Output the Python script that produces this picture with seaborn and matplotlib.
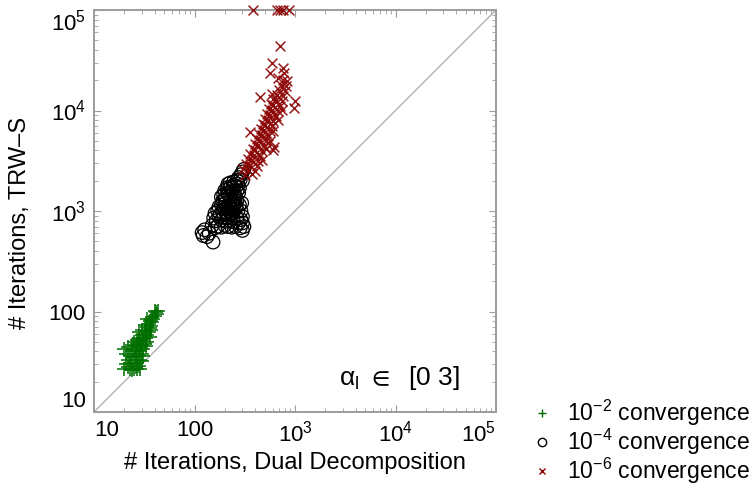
import numpy as np
import pandas as pd
import matplotlib
matplotlib.use("Agg")
import matplotlib.pyplot as plt
from matplotlib.lines import Line2D
import seaborn as sns

# ---------------- data ----------------
green_x = [20, 21, 22, 23, 24, 25, 26, 27, 28, 29, 22, 23, 21, 20, 22, 24, 25, 26, 27, 28,
           29, 30, 31, 26, 27, 28, 29, 30, 31, 32, 33, 34, 25, 24, 28, 30, 32, 33, 34, 35,
           36, 37, 35, 36, 38, 39, 40, 41, 43, 42, 40, 38, 37, 36, 34, 33, 31, 30, 29, 27,
           26, 25, 23, 24, 28, 30, 32, 34, 29, 31, 27, 26]
green_y = [27, 30, 28, 27, 26, 27, 28, 27, 29, 27, 33, 36, 38, 42, 44, 40, 35, 33, 38, 36,
           40, 38, 42, 45, 48, 44, 50, 46, 52, 48, 55, 50, 50, 46, 55, 58, 60, 64, 58, 62,
           68, 72, 75, 80, 78, 84, 90, 100, 102, 95, 102, 88, 65, 56, 70, 45, 36, 32, 33, 31,
           40, 42, 31, 30, 62, 66, 74, 85, 45, 55, 52, 35]

black_x = [119, 126, 133, 153, 140, 122,
           150, 160, 170, 185, 200, 215, 235, 255, 285, 300, 275, 245, 225, 205, 185, 165, 155, 175,
           195, 215, 240, 265, 290, 300,
           160, 170, 180, 190, 200, 210, 220, 230, 240, 250, 260, 270, 175, 185, 195, 205, 215, 225,
           235, 245, 255, 265, 280, 190, 200, 210, 220, 230, 240, 250,
           185, 195, 205, 215, 225, 235, 245, 255, 265, 275, 200, 210, 220, 230, 240, 250, 260, 270,
           225, 245, 215, 280, 265,
           275, 290, 300, 310, 285, 300,
           290, 300, 310, 295]
black_y = [610, 650, 555, 490, 600, 570,
           720, 680, 700, 690, 720, 700, 690, 700, 680, 640, 760, 780, 800, 790, 810, 800, 850, 880,
           870, 860, 850, 840, 820, 880,
           950, 1000, 930, 980, 1050, 950, 1000, 1080, 960, 1020, 1100, 990, 1100, 1150, 1080, 1200, 1120, 1250,
           1180, 1130, 1220, 1270, 1150, 1250, 1300, 1050, 1150, 960, 1240, 1300,
           1380, 1450, 1400, 1500, 1420, 1550, 1480, 1400, 1600, 1520, 1600, 1700, 1650, 1750, 1700, 1800, 1750, 1850,
           1900, 1950, 1850, 1700, 2000,
           2150, 2300, 2450, 2600, 2050, 2000,
           1000, 760, 700, 1200]

red_x = [318, 373,
         340, 400, 305,
         356, 415, 325,
         373, 428, 340, 470,
         390, 448, 356,
         400, 470, 380, 520,
         428, 490, 400,
         448, 520, 415, 563,
         470, 537, 435,
         490, 563, 455, 610,
         502, 590, 480,
         537, 610, 502, 675,
         563, 650, 530,
         590, 675, 550, 741,
         610, 708, 575,
         650, 741, 600,
         660, 760, 590,
         690, 793,
         720, 810,
         760,
         448, 617, 356, 607, 708, 593, 563, 760, 776, 836, 671, 997, 970,
         382, 662, 710, 760, 871]
red_y = [2280, 2350,
         2560, 2500, 2620,
         2870, 2800, 2950,
         3210, 3150, 3300, 3250,
         3600, 3500, 3700,
         4040, 3950, 4150, 4100,
         4530, 4400, 4650,
         5080, 4950, 5200, 5000,
         5700, 5600, 5850,
         6390, 6250, 6500, 6300,
         7170, 7000, 7350,
         8040, 7900, 8200, 8100,
         9020, 8800, 9200,
         10110, 9900, 10300, 10200,
         11340, 11100, 11600,
         12710, 12400, 13000,
         14260, 14000, 14500,
         16000, 15700,
         17940, 17500,
         20100,
         13560, 4330, 6110, 4040, 43800, 29400, 23600, 26600, 23600, 19600, 21000, 12400, 10700,
         100000, 100000, 100000, 100000, 100000]

series_labels = ["$10^{-2}$ convergence", "$10^{-4}$ convergence", "$10^{-6}$ convergence"]
tick_vals = [10, 100, 1000, 10000, 100000]
tick_labels = ["10", "100", "$10^3$", "$10^4$", "$10^5$"]

# ---------------- style ----------------
sns.set_style("white")
plt.rcParams['font.family'] = ['Liberation Sans', 'DejaVu Sans']
plt.rcParams['mathtext.fontset'] = 'custom'
plt.rcParams['mathtext.rm'] = 'Liberation Sans'
plt.rcParams['mathtext.it'] = 'Liberation Sans:italic'
plt.rcParams['mathtext.bf'] = 'Liberation Sans:bold'
plt.rcParams['mathtext.fallback'] = 'stixsans'
plt.rcParams['text.color'] = 'black'
plt.rcParams['axes.labelcolor'] = 'black'
plt.rcParams['xtick.labelcolor'] = 'black'
plt.rcParams['ytick.labelcolor'] = 'black'

GREEN = '#006f00'
RED = '#8b0000'
FRAME = '#9c9c9c'

fig = plt.figure(figsize=(7.56, 4.95), dpi=100)
ax = fig.add_axes([94 / 756, 83 / 495, 402 / 756, 402 / 495])

dg = pd.DataFrame({'x': green_x, 'y': green_y})
db = pd.DataFrame({'x': black_x, 'y': black_y})
dr = pd.DataFrame({'x': red_x, 'y': red_y})

ax.plot([10, 1e5], [10, 1e5], color='#a8a8a8', lw=0.9, zorder=1)

sns.scatterplot(data=dg, x='x', y='y', ax=ax, marker='+', color=GREEN, s=110,
                linewidth=1.3, alpha=0.85, legend=False, zorder=3)
sns.scatterplot(data=db, x='x', y='y', ax=ax, marker='o', facecolors='none',
                edgecolors='black', s=95, linewidth=0.9, legend=False, zorder=4)
sns.scatterplot(data=dr, x='x', y='y', ax=ax, marker='x', color=RED, s=50,
                linewidth=1.1, alpha=0.9, legend=False, zorder=5, clip_on=False)

ax.set_xscale('log')
ax.set_yscale('log')
ax.set_xlim(10, 1e5)
ax.set_ylim(10, 1e5)
ax.set_xticks(tick_vals)
ax.set_xticklabels(tick_labels, fontsize=16)
ax.set_yticks(tick_vals)
ax.set_yticklabels(tick_labels, fontsize=16)
xl = ax.get_xticklabels()
xl[0].set_ha('left')
xl[-1].set_ha('right')
yl = ax.get_yticklabels()
yl[0].set_va('bottom')
yl[-1].set_va('top')

ax.tick_params(which='both', direction='in', top=True, right=True, bottom=True, left=True,
               color=FRAME)
ax.tick_params(which='major', length=5, width=0.8, pad=6)
ax.tick_params(which='minor', length=3, width=0.6)
for sp in ax.spines.values():
    sp.set_color(FRAME)
    sp.set_linewidth(1.4)

ax.set_xlabel('# Iterations, Dual Decomposition', fontsize=17, labelpad=4)
ax.set_ylabel('# Iterations, TRW–S', fontsize=17)
ax.yaxis.set_label_coords(-0.157, 0.47)

ax.text(10 ** 4.64, 18.5, r'α$_\mathrm{l}$ $\in$  [0 3]', fontsize=19, ha='right',
        va='baseline')

handles = [
    Line2D([], [], linestyle='none', marker='+', color=GREEN, markersize=6, markeredgewidth=1),
    Line2D([], [], linestyle='none', marker='o', markerfacecolor='none', markeredgecolor='black',
           markersize=6, markeredgewidth=1),
    Line2D([], [], linestyle='none', marker='x', color=RED, markersize=5, markeredgewidth=1),
]
fig.legend(handles, series_labels, loc='lower left', bbox_to_anchor=(517 / 756, -0.01),
           frameon=False, fontsize=16.5, handlelength=1.0, handletextpad=0.6,
           labelspacing=-0.05, borderaxespad=0.2)

fig.savefig('out.png', dpi=100)
